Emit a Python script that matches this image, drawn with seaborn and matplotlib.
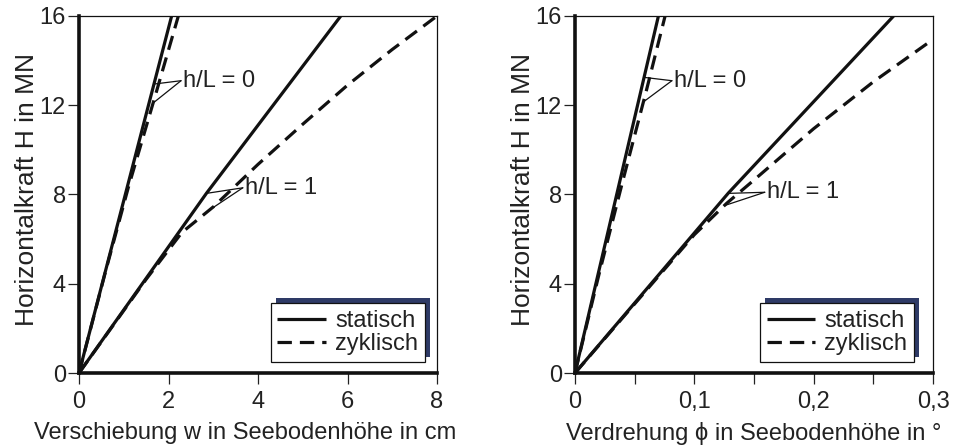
import numpy as np
import pandas as pd
import matplotlib
matplotlib.use("Agg")
import matplotlib.pyplot as plt
import seaborn as sns
from matplotlib.lines import Line2D
from matplotlib.patches import Rectangle

# ---------------- data ----------------
# left: Verschiebung w [cm] vs H [MN]
w_h0_stat = [0.0, 2.07]
H_h0_stat = [0.0, 16.0]
w_h0_zykl = [0.0, 0.6, 1.1, 1.7, 2.22]
H_h0_zykl = [0.0, 4.6, 8.3, 12.4, 16.0]
w_h1_stat = [0.0, 2.85, 5.85]
H_h1_stat = [0.0, 8.06, 16.0]
w_h1_zykl = [0.0, 1.5, 2.3, 3.01, 4.0, 5.0, 6.0, 7.0, 8.0]
H_h1_zykl = [0.0, 4.2, 6.3, 7.46, 9.35, 11.15, 12.9, 14.5, 16.0]

# right: Verdrehung phi [deg] vs H [MN]
p_h0_stat = [0.0, 0.0699]
Hp_h0_stat = [0.0, 16.0]
p_h0_zykl = [0.0, 0.02, 0.04, 0.06, 0.0755]
Hp_h0_zykl = [0.0, 4.4, 8.6, 12.7, 16.0]
p_h1_stat = [0.0, 0.1286, 0.267]
Hp_h1_stat = [0.0, 8.07, 16.0]
p_h1_zykl = [0.0, 0.05, 0.1, 0.127, 0.15, 0.2, 0.25, 0.3]
Hp_h1_zykl = [0.0, 3.1, 6.2, 7.6, 8.65, 10.95, 13.05, 14.95]

left_xticks = [0, 2, 4, 6, 8]
left_xticklabels = ["0", "2", "4", "6", "8"]
right_xticks = [0, 0.05, 0.1, 0.15, 0.2, 0.25, 0.3]
right_xticklabels = ["0", "", "0,1", "", "0,2", "", "0,3"]
yticks = [0, 4, 8, 12, 16]
yticklabels = ["0", "4", "8", "12", "16"]
legend_labels = ["statisch", "zyklisch"]

# ---------------- style ----------------
sns.set_style("white")
plt.rcParams["font.family"] = ["Liberation Sans", "DejaVu Sans"]
FS = 17
FS_Y = 19
DASH = (0, (4.5, 2.5))
LW = 2.3
INK = "#111111"
TXT = "#222222"


def make_df(x, y, fall, typ):
    return pd.DataFrame({"x": x, "H": y, "Fall": fall, "Typ": typ})


df_left = pd.concat([
    make_df(w_h0_stat, H_h0_stat, "h/L = 0", "statisch"),
    make_df(w_h0_zykl, H_h0_zykl, "h/L = 0", "zyklisch"),
    make_df(w_h1_stat, H_h1_stat, "h/L = 1", "statisch"),
    make_df(w_h1_zykl, H_h1_zykl, "h/L = 1", "zyklisch"),
], ignore_index=True)
df_right = pd.concat([
    make_df(p_h0_stat, Hp_h0_stat, "h/L = 0", "statisch"),
    make_df(p_h0_zykl, Hp_h0_zykl, "h/L = 0", "zyklisch"),
    make_df(p_h1_stat, Hp_h1_stat, "h/L = 1", "statisch"),
    make_df(p_h1_zykl, Hp_h1_zykl, "h/L = 1", "zyklisch"),
], ignore_index=True)

W, Hpx = 957, 448
fig = plt.figure(figsize=(W / 100, Hpx / 100), dpi=100)
fig.patch.set_facecolor("white")


def px_axes(x0, x1, ytop, ybot):
    return fig.add_axes([x0 / W, (Hpx - ybot) / Hpx, (x1 - x0) / W, (ybot - ytop) / Hpx])


axL = px_axes(79, 437, 16, 373)
axR = px_axes(575, 933, 16, 373)


def draw_panel(ax, df, xlim, xticks, xticklabels, xlabel, xlab_x):
    for (fall, typ), sub in df.groupby(["Fall", "Typ"]):
        ls = "-" if typ == "statisch" else DASH
        sns.lineplot(data=sub, x="x", y="H", ax=ax, color=INK, lw=LW,
                     linestyle=ls, sort=False, estimator=None, legend=False,
                     solid_capstyle="butt", dash_capstyle="butt")
    ax.set_xlim(*xlim)
    ax.set_ylim(0, 16)
    ax.set_xticks(xticks)
    ax.set_xticklabels(xticklabels)
    ax.set_yticks(yticks)
    ax.set_yticklabels(yticklabels)
    ax.tick_params(axis="both", labelsize=FS, colors=TXT, width=0.9,
                   length=8, direction="out", bottom=True, left=True, top=False, right=False)
    ax.tick_params(axis="x", pad=5)
    ax.tick_params(axis="y", pad=1.5)
    for s in ["left", "bottom"]:
        ax.spines[s].set_linewidth(2.6)
        ax.spines[s].set_color(INK)
    for s in ["top", "right"]:
        ax.spines[s].set_linewidth(0.9)
        ax.spines[s].set_color(INK)
    ax.set_xlabel(xlabel, fontsize=FS, color=TXT)
    ax.set_ylabel("Horizontalkraft H in MN", fontsize=FS_Y, color=TXT)
    ax.xaxis.set_label_coords(xlab_x, -0.138)
    ax.yaxis.set_label_coords(-0.112, 0.515)

    handles = [Line2D([], [], color=INK, lw=LW, linestyle="-", solid_capstyle="butt"),
               Line2D([], [], color=INK, lw=LW, linestyle=DASH, dash_capstyle="butt")]
    return handles


hL = draw_panel(axL, df_left, (0, 8), left_xticks, left_xticklabels,
                "Verschiebung w in Seebodenhöhe in cm", 0.463)
hR = draw_panel(axR, df_right, (0, 0.3), right_xticks, right_xticklabels,
                "Verdrehung ϕ in Seebodenhöhe in °", 0.5)


def callout(ax, text, anchor, xs1, ys1, h1, xs2, ys2, h2):
    ax.annotate(text, xy=anchor, xytext=(1.5, 0), textcoords="offset points",
                ha="left", va="center", fontsize=FS, color=TXT)
    for xs, ys, h in [(xs1, ys1, h1), (xs2, ys2, h2)]:
        target = (np.interp(h, ys, xs), h)
        ax.annotate("", xy=target, xytext=anchor,
                    arrowprops=dict(arrowstyle="-", lw=0.9, color=INK,
                                    shrinkA=0, shrinkB=0))


callout(axL, "h/L = 0", (2.28, 13.1), w_h0_stat, H_h0_stat, 12.95, w_h0_zykl, H_h0_zykl, 12.1)
callout(axL, "h/L = 1", (3.66, 8.3), w_h1_stat, H_h1_stat, 8.05, w_h1_zykl, H_h1_zykl, 7.3)
callout(axR, "h/L = 0", (0.0812, 13.1), p_h0_stat, Hp_h0_stat, 13.25, p_h0_zykl, Hp_h0_zykl, 12.15)
callout(axR, "h/L = 1", (0.159, 8.1), p_h1_stat, Hp_h1_stat, 8.05, p_h1_zykl, Hp_h1_zykl, 7.5)

legs = []
for ax, handles, bx in [(axL, hL, 0.966), (axR, hR, 0.947)]:
    leg = ax.legend(handles, legend_labels, loc="lower right", bbox_to_anchor=(bx, 0.032),
                    borderaxespad=0, fontsize=FS, frameon=True, fancybox=False,
                    framealpha=1, edgecolor=INK, handlelength=2.05,
                    handletextpad=0.4, labelspacing=0.05, borderpad=0.28)
    leg.get_frame().set_linewidth(0.9)
    for t in leg.get_texts():
        t.set_color(TXT)
    legs.append((ax, leg))

fig.canvas.draw()
for ax, leg in legs:
    bb = leg.get_window_extent()
    inv = ax.transAxes.inverted()
    (x0, y0) = inv.transform((bb.x0 + 5, bb.y0 + 5))
    (x1, y1) = inv.transform((bb.x1 + 5, bb.y1 + 5))
    ax.add_patch(Rectangle((x0, y0), x1 - x0, y1 - y0, transform=ax.transAxes,
                           facecolor="#2e3a66", edgecolor="none", zorder=4.9, clip_on=False))

fig.savefig("out.png", dpi=100, facecolor="white")
